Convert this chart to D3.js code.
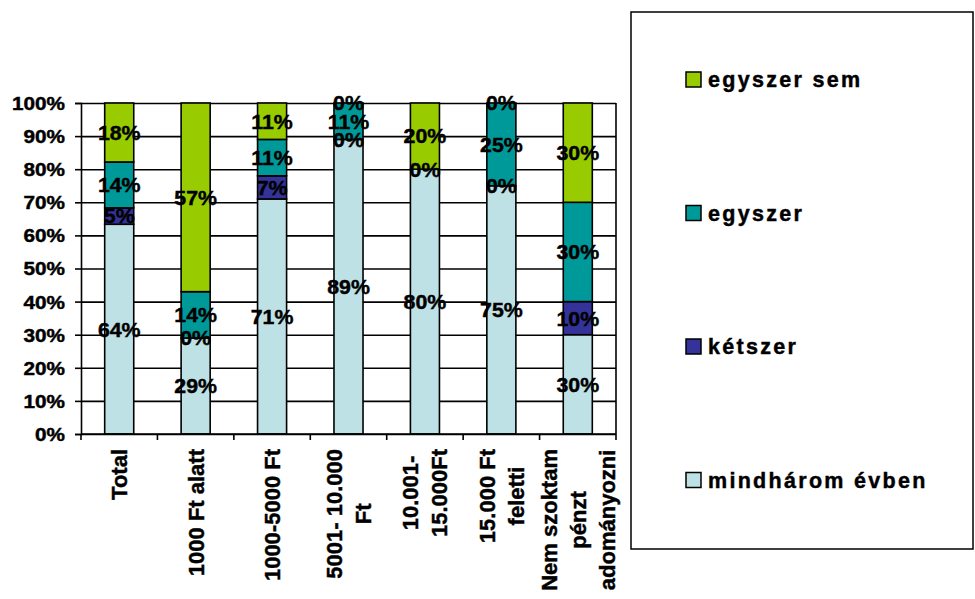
<!DOCTYPE html>
<html>
<head>
<meta charset="utf-8">
<script src="https://cdn.jsdelivr.net/npm/d3@7"></script>
<style>
  html, body { margin: 0; padding: 0; background: #fff; }
  svg { display: block; }
  text { font-family: "Liberation Sans", Arial, Helvetica, sans-serif; font-weight: bold; fill: #000; stroke: #000; stroke-width: 0.45px; }
</style>
</head>
<body>
<svg id="chart" width="975" height="599"></svg>
<script>
// Categories (donation amount groups), one label line per array entry
const categoryLines = [
  ["Total"],
  ["1000 Ft alatt"],
  ["1000-5000 Ft"],
  ["5001- 10.000", "Ft"],
  ["10.001-", "15.000Ft"],
  ["15.000 Ft", "feletti"],
  ["Nem szoktam", "pénzt", "adományozni"]
];
const categories = categoryLines.map(l => l.join(" "));

// Series, stacked bottom to top (percent of respondents)
const seriesNames = ["mindhárom évben", "kétszer", "egyszer", "egyszer sem"];
const mindharomEvben = [64, 29, 71, 89, 80, 75, 30];
const ketszer        = [5, 0, 7, 0, 0, 0, 10];
const egyszer        = [14, 14, 11, 11, null, 25, 30];
const egyszerSem     = [18, 57, 11, 0, 20, 0, 30];

const yTicks = [0, 10, 20, 30, 40, 50, 60, 70, 80, 90, 100];
const colors = ["#bee1e5", "#333399", "#009999", "#99cc00"];

const seriesValues = [mindharomEvben, ketszer, egyszer, egyszerSem];
const rows = categories.map((c, i) => {
  const r = { category: c, lines: categoryLines[i] };
  seriesNames.forEach((s, k) => { r[s] = seriesValues[k][i]; });
  return r;
});

const svg = d3.select("#chart");
const plot = { left: 81, right: 616, top: 103, bottom: 434 };

const x = d3.scaleBand()
  .domain(categories)
  .range([plot.left, plot.right])
  .paddingInner(0.62)
  .paddingOuter(0.31);

const y = d3.scaleLinear().domain([0, 100]).range([plot.bottom, plot.top]);

// 100% stacked: each column normalised to its own total
const stack = d3.stack()
  .keys(seriesNames)
  .value((d, key) => d[key] == null ? 0 : d[key])
  .offset(d3.stackOffsetExpand);
const layers = stack(rows);

const lineW = 1.6;

// horizontal gridlines
svg.append("g")
  .attr("transform", `translate(${plot.left},0)`)
  .call(d3.axisLeft(y).tickValues(yTicks).tickSize(-(plot.right - plot.left)).tickFormat(""))
  .call(g => g.select(".domain").remove())
  .call(g => g.selectAll("line").attr("stroke", "#000").attr("stroke-width", lineW));

// right frame edge
svg.append("line")
  .attr("x1", plot.right).attr("x2", plot.right)
  .attr("y1", y(100)).attr("y2", y(0))
  .attr("stroke", "#000").attr("stroke-width", lineW);

// stacked bars
const layerG = svg.append("g").selectAll("g")
  .data(layers)
  .join("g")
  .attr("fill", (d, i) => colors[i]);

layerG.selectAll("rect")
  .data(d => d)
  .join("rect")
  .attr("x", d => x(d.data.category))
  .attr("width", x.bandwidth())
  .attr("y", d => y(d[1] * 100))
  .attr("height", d => y(d[0] * 100) - y(d[1] * 100))
  .attr("stroke", "#000")
  .attr("stroke-width", lineW);

// y axis with ticks and labels
const yAxis = svg.append("g")
  .attr("transform", `translate(${plot.left},0)`)
  .call(d3.axisLeft(y).tickValues(yTicks).tickSize(6).tickPadding(10).tickFormat(d => d + "%"));
yAxis.select(".domain").attr("stroke", "#000").attr("stroke-width", lineW);
yAxis.selectAll("line").attr("stroke", "#000").attr("stroke-width", lineW);
const tickStretch = 1.15;
yAxis.selectAll("text")
  .attr("font-size", 18)
  .attr("font-family", null)
  .attr("fill", null)
  .attr("x", -16 / tickStretch)
  .attr("dy", "0.36em")
  .attr("transform", `scale(${tickStretch},1)`);

// x axis baseline and ticks at category boundaries
svg.append("line")
  .attr("x1", plot.left).attr("x2", plot.right)
  .attr("y1", y(0)).attr("y2", y(0))
  .attr("stroke", "#000").attr("stroke-width", lineW);

const half = x.step() / 2;
const boundaries = categories.map(c => x(c) + x.bandwidth() / 2 - half)
  .concat([x(categories[categories.length - 1]) + x.bandwidth() / 2 + half]);
svg.append("g").selectAll("line")
  .data(boundaries)
  .join("line")
  .attr("x1", d => d).attr("x2", d => d)
  .attr("y1", y(0)).attr("y2", y(0) + 6)
  .attr("stroke", "#000").attr("stroke-width", lineW);

// rotated category labels, lines centred on each other
const xLabelTop = 449;
const xLineGap = 29;
const xl = svg.append("g").selectAll("g")
  .data(rows)
  .join("g");
xl.each(function (d) {
  const g = d3.select(this);
  const cx = x(d.category) + x.bandwidth() / 2;
  const n = d.lines.length;
  const texts = d.lines.map((line, i) =>
    g.append("text")
      .attr("font-size", 22)
      .attr("text-anchor", "middle")
      .attr("dy", "0.36em")
      .text(line));
  const maxLen = d3.max(texts, t => t.node().getComputedTextLength());
  const cy = xLabelTop + maxLen / 2;
  texts.forEach((t, i) => {
    const lx = cx + (i - (n - 1) / 2) * xLineGap;
    t.attr("transform", `translate(${lx},${cy}) rotate(-90)`);
  });
});

// value labels centred in each segment
const labelG = svg.append("g");
layers.forEach(layer => {
  layer.forEach(seg => {
    const v = seg.data[layer.key];
    if (v == null) return;
    const cx = x(seg.data.category) + x.bandwidth() / 2;
    const cy = y((seg[0] + seg[1]) / 2 * 100);
    labelG.append("text")
      .attr("transform", `translate(${cx},${cy}) scale(1.04,1)`)
      .attr("text-anchor", "middle")
      .attr("dy", "0.36em")
      .attr("font-size", 20.5)
      .text(v + "%");
  });
});

// legend
const legend = svg.append("g");
legend.append("rect")
  .attr("x", 631).attr("y", 12)
  .attr("width", 342).attr("height", 537)
  .attr("fill", "none")
  .attr("stroke", "#000")
  .attr("stroke-width", 1.5);

const legendOrder = seriesNames.slice().reverse();
const legendY = d3.scalePoint().domain(legendOrder).range([79.5, 480]);
const items = legend.selectAll("g.item")
  .data(legendOrder)
  .join("g")
  .attr("class", "item")
  .attr("transform", d => `translate(686,${legendY(d)})`);
items.append("rect")
  .attr("x", 0).attr("y", -7.5)
  .attr("width", 15).attr("height", 15)
  .attr("fill", d => colors[seriesNames.indexOf(d)])
  .attr("stroke", "#000")
  .attr("stroke-width", 1.5);
items.append("text")
  .attr("x", 22)
  .attr("dy", "0.36em")
  .attr("font-size", 21.5)
  .attr("letter-spacing", 2.3)
  .text(d => d);
</script>
</body>
</html>
